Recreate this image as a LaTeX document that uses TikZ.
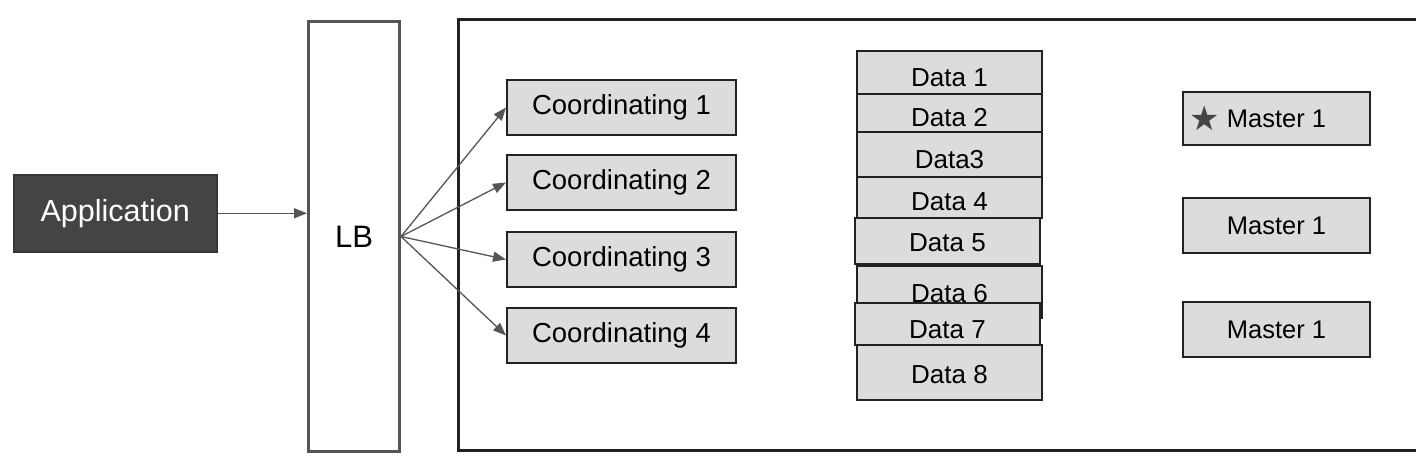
\documentclass[tikz,border=0pt]{standalone}
\usepackage{fontspec}
\setmainfont{Liberation Sans}
\newfontfamily\symfont{DejaVu Sans}
\usetikzlibrary{arrows.meta}
\definecolor{boxfill}{HTML}{DCDCDC}
\definecolor{boxline}{HTML}{222222}
\definecolor{appfill}{HTML}{444444}
\definecolor{lbline}{HTML}{555555}
\definecolor{arrowcol}{HTML}{555555}
\tikzset{
  graybox/.style={draw=boxline, line width=2pt, fill=boxfill, inner sep=0pt, anchor=north west, text=black,
    font=\fontsize{26}{31}\selectfont},
  databox/.style={graybox, minimum width=185pt, text height=#1, text depth=0pt},
  coordbox/.style={graybox, minimum width=229pt, minimum height=55pt, font=\fontsize{27.5}{33}\selectfont},
  masterbox/.style={graybox, minimum width=187pt, font=\fontsize{25.5}{31}\selectfont},
  fanarrow/.style={draw=arrowcol, line width=1.3pt, -{Triangle[length=13pt,width=10pt]}},
}
\begin{document}
\begin{tikzpicture}[x=1pt,y=-1pt]
\useasboundingbox[fill=white] (0,0) rectangle (1416,476);
% container
\draw[boxline, line width=3pt] (1416,20) -- (458,20) -- (458,450) -- (1416,450);
% application
\node[draw=appfill!80!black, line width=1.5pt, fill=appfill, text=white, inner sep=0pt, anchor=north west,
  minimum width=203pt, minimum height=77pt, font=\fontsize{30.5}{36}\selectfont] (app) at (13,174) {Application};
% LB
\node[draw=lbline, line width=3pt, fill=white, inner sep=0pt, anchor=north west,
  minimum width=91pt, minimum height=430pt, font=\fontsize{31}{37}\selectfont] (lb) at (307,20) {LB};
% coordinating
\node[coordbox] (c1) at (506,79) {Coordinating 1};
\node[coordbox] (c2) at (506,154) {Coordinating 2};
\node[coordbox] (c3) at (506,231) {Coordinating 3};
\node[coordbox] (c4) at (506,307) {Coordinating 4};
% data stack
\node[databox=28pt, minimum height=43pt] (d1) at (856,50) {Data 1};
\node[databox=28pt, minimum height=38pt] (d2) at (856,93) {Data 2};
\node[databox=27pt, minimum height=45pt] (d3) at (856,131) {Data3};
\node[databox=26pt, minimum height=41pt] (d4) at (856,176) {Data 4};
\node[databox=21pt, minimum height=46pt] (d5) at (854,217) {Data 5};
\node[databox=21pt, minimum height=52pt] (d6) at (856,265) {Data 6};
\node[databox=29pt, minimum height=42pt] (d7) at (854,302) {Data 7};
\node[databox=21pt, minimum height=55pt] (d8) at (856,344) {Data 8};
% masters
\node[masterbox, minimum height=53pt] (m1) at (1182,91) {Master 1};
\node[masterbox, minimum height=55pt] (m2) at (1182,197) {Master 1};
\node[masterbox, minimum height=55pt] (m3) at (1182,301) {Master 1};
\node[text=appfill, inner sep=0pt, font=\symfont\fontsize{34}{40}\selectfont] (star) at (1205,118) {★};
% connectors
\draw[fanarrow] (app.east) -- (app.east -| lb.west);
\draw[fanarrow] (lb.east) -- (c1.west);
\draw[fanarrow] (lb.east) -- (c2.west);
\draw[fanarrow] (lb.east) -- (c3.west);
\draw[fanarrow] (lb.east) -- (c4.west);
\end{tikzpicture}
\end{document}
